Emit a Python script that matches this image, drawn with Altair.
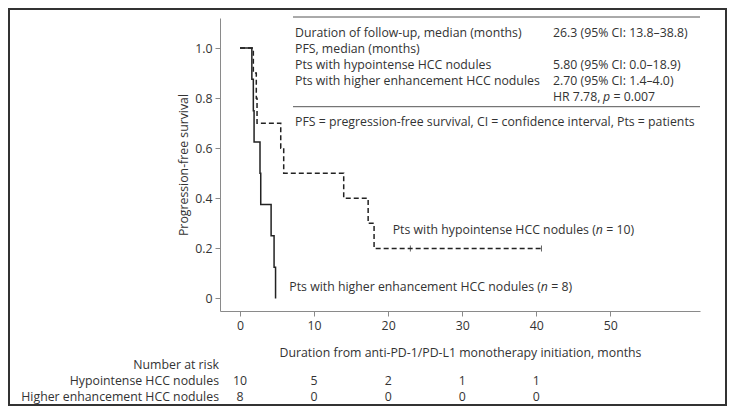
import altair as alt
import pandas as pd

# ---- data ----
hypo_time = [0, 1.8, 2.2, 2.3, 5.5, 5.9, 14.0, 17.3, 18.1, 40.7]
hypo_surv = [1.0, 0.9, 0.8, 0.7, 0.6, 0.5, 0.4, 0.3, 0.2, 0.2]
hypo_censor_time = [23.0, 40.7]
hypo_censor_surv = [0.2, 0.2]

high_time = [0, 1.6, 1.8, 1.9, 2.7, 2.8, 4.2, 4.6, 4.8]
high_surv = [1.0, 0.875, 0.75, 0.625, 0.5, 0.375, 0.25, 0.125, 0.0]

x_ticks = [0, 10, 20, 30, 40, 50]
y_ticks = [0, 0.2, 0.4, 0.6, 0.8, 1.0]

risk_times = [0, 10, 20, 30, 40]
risk_hypo = [10, 5, 2, 1, 1]
risk_high = [8, 0, 0, 0, 0]
risk_title = "Number at risk"
risk_groups = ["Hypointense HCC nodules", "Higher enhancement HCC nodules"]

table_left = ["Duration of follow-up, median (months)", "PFS, median (months)",
              "Pts with hypointense HCC nodules", "Pts with higher enhancement HCC nodules"]
table_right = ["26.3 (95% CI: 13.8\u201338.8)", "", "5.80 (95% CI: 0.0\u201318.9)",
               "2.70 (95% CI: 1.4\u20134.0)"]
hr_parts = ["HR 7.78,", "p", "= 0.007"]
footnote = "PFS = pregression-free survival, CI = confidence interval, Pts = patients"

hypo_label = ["Pts with hypointense HCC nodules (", "n", "= 10)"]
high_label = ["Pts with higher enhancement HCC nodules (", "n", "= 8)"]

x_title = "Duration from anti-PD-1/PD-L1 monotherapy initiation, months"
y_title = "Progression-free survival"

# ---- layout ----
W, H = 480, 293
FONT = "Open Sans"
FS = 12.3
TXT = "#333333"
AX = "#8a8a8a"

xs = alt.Scale(domain=[-2.7, 62.1], nice=False, zero=False)
ys = alt.Scale(domain=[-0.05, 1.12], nice=False, zero=False)

hypo_df = pd.DataFrame({"t": hypo_time, "s": hypo_surv})
high_df = pd.DataFrame({"t": high_time, "s": high_surv})
cens_df = pd.DataFrame({"t": hypo_censor_time, "s": hypo_censor_surv})

x_enc = alt.X("t:Q", scale=xs, axis=alt.Axis(
    values=x_ticks, title=x_title, grid=False, domainColor=AX, tickColor=AX,
    tickSize=5, labelPadding=3, titlePadding=15, labelFont=FONT, titleFont=FONT,
    labelFontSize=FS, titleFontSize=FS, titleFontWeight="normal",
    labelColor=TXT, titleColor=TXT, labelFlush=False))
y_enc = alt.Y("s:Q", scale=ys, axis=alt.Axis(
    values=y_ticks, title=y_title, grid=False, domainColor=AX, tickColor=AX,
    tickSize=5, labelPadding=3, titlePadding=4, labelFont=FONT, titleFont=FONT,
    labelFontSize=FS, titleFontSize=FS, titleFontWeight="normal",
    labelColor=TXT, titleColor=TXT, labelFlush=False,
    labelExpr="datum.value == 0 ? '0' : format(datum.value, '.1f')"))

high_line = alt.Chart(high_df).mark_line(
    interpolate="step-after", color="#222222", strokeWidth=1.5
).encode(x=x_enc, y=y_enc)

hypo_line = alt.Chart(hypo_df).mark_line(
    interpolate="step-after", color="#222222", strokeWidth=1.5, strokeDash=[5, 3]
).encode(x=alt.X("t:Q", scale=xs), y=alt.Y("s:Q", scale=ys))

cens = alt.Chart(cens_df).mark_tick(
    orient="vertical", size=6, thickness=1, color="#222222"
).encode(x=alt.X("t:Q", scale=xs), y=alt.Y("s:Q", scale=ys))

base = alt.Chart(pd.DataFrame({"a": [0]}))


def txt(text, x, y, align="left", italic=False):
    return base.mark_text(
        text=text, align=align, baseline="middle", font=FONT, fontSize=FS,
        fontStyle="italic" if italic else "normal", color=TXT
    ).encode(x=alt.value(x), y=alt.value(y))


def hline(x1, x2, y):
    return base.mark_rule(color="#555555", strokeWidth=1).encode(
        x=alt.value(x1), x2=alt.value(x2), y=alt.value(y))


layers = [hypo_line, high_line, cens]

# table at top right
LX, RX = 75, 333
row_y = [14.7, 30.7, 46.7, 62.7, 78.7]
layers.append(hline(73, 480, -1))
for i, t in enumerate(table_left):
    layers.append(txt(t, LX, row_y[i]))
    if table_right[i]:
        layers.append(txt(table_right[i], RX, row_y[i]))
layers.append(txt(hr_parts[0], RX, row_y[4]))
layers.append(txt(hr_parts[1], RX + 50.0, row_y[4], italic=True))
layers.append(txt(hr_parts[2], RX + 60.5, row_y[4]))
layers.append(hline(73, 480, 88.7))
layers.append(txt(footnote, LX, 103.7))

# curve labels
layers.append(txt(hypo_label[0], 172.7, 212))
layers.append(txt(hypo_label[1], 172.7 + 203.0, 212, italic=True))
layers.append(txt(hypo_label[2], 172.7 + 213.5, 212))
layers.append(txt(high_label[0], 69.3, 269.3))
layers.append(txt(high_label[1], 69.3 + 251.4, 269.3, italic=True))
layers.append(txt(high_label[2], 69.3 + 261.9, 269.3))

# number at risk
RY = [347, 363, 379]
layers.append(txt(risk_title, -1, RY[0], align="right"))
layers.append(txt(risk_groups[0], -1, RY[1], align="right"))
layers.append(txt(risk_groups[1], -1, RY[2], align="right"))
risk_df = pd.DataFrame({"t": risk_times * 2,
                        "n": [str(v) for v in risk_hypo + risk_high],
                        "g": [0] * len(risk_times) + [1] * len(risk_times)})
for g in (0, 1):
    layers.append(alt.Chart(risk_df[risk_df.g == g]).mark_text(
        align="center", baseline="middle", font=FONT, fontSize=FS, color=TXT
    ).encode(x=alt.X("t:Q", scale=xs), y=alt.value(RY[g + 1]), text="n:N"))

# outer frame
layers.append(base.mark_rect(filled=False, stroke="#333333", strokeWidth=2).encode(
    x=alt.value(-211), x2=alt.value(W + 26), y=alt.value(-9), y2=alt.value(H + 94)))

chart = alt.layer(*layers).properties(
    width=W, height=H,
    padding={"left": 212, "top": 10, "right": 27, "bottom": 95},
    autosize=alt.AutoSizeParams(type="none"),
).configure_view(stroke=None)

chart.save("out.html", embed_options={"renderer": "svg", "actions": False})
